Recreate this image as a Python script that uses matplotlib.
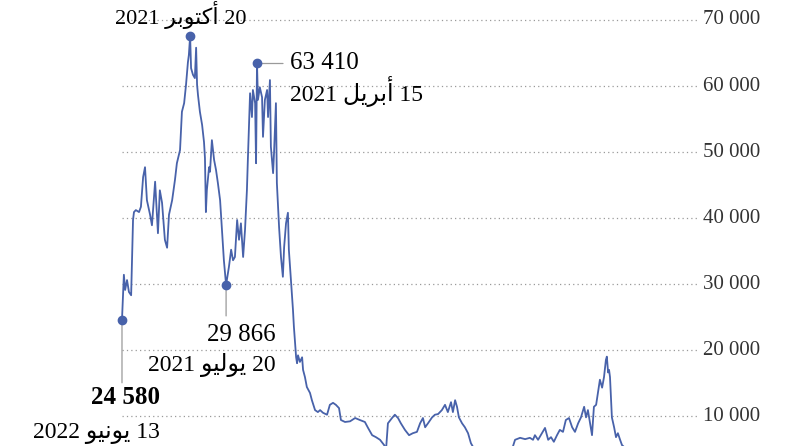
import matplotlib
matplotlib.use("Agg")
import matplotlib.pyplot as plt

# days before 13 June 2022 (x grows towards the past, to the right)
days = [0, 3, 6, 10, 16, 22, 29, 35, 38, 44, 54, 60, 67, 73, 79, 89, 95, 105, 114, 120,
        127, 136, 143, 149, 159, 168, 174, 184, 190, 197, 203, 209, 212, 216, 219, 225,
        231, 235, 238, 241, 247, 254, 260, 263, 266, 269, 276, 279, 285, 292, 298, 304,
        311, 317, 323, 330, 339, 346, 352, 358, 365, 371, 377, 384, 390, 396, 399, 406,
        412, 415, 422, 425, 428, 431, 437, 444, 447, 453, 460, 463, 469, 472, 479, 482,
        488, 491, 498, 504, 510, 514, 520, 526, 529, 536, 542, 545, 548, 552, 555, 558,
        564, 571, 574, 580, 586, 596, 602, 612, 621, 628, 637, 650, 659, 669, 678, 688,
        694, 707, 723, 739, 754, 770, 780, 793, 805, 818, 831, 837, 843, 856, 865, 875,
        884, 897, 910, 922, 935, 945, 954, 961, 970, 983, 992, 1002, 1014, 1024, 1033,
        1043, 1049, 1056, 1062, 1068, 1078, 1087, 1097, 1106, 1113, 1135, 1167, 1198,
        1230, 1246, 1262, 1278, 1293, 1303, 1309, 1319, 1331, 1341, 1351, 1360, 1369,
        1379, 1388, 1398, 1407, 1417, 1427, 1436, 1446, 1455, 1465, 1471, 1477, 1484,
        1490, 1496, 1503, 1509, 1515, 1522, 1528, 1534, 1537, 1541, 1544, 1547, 1550,
        1553, 1560, 1566, 1572, 1579, 1585, 1610, 1674, 1769, 1832]

price = [24580, 27900, 31400, 29100, 30600, 28800, 28300, 39700, 40900, 41200, 40900,
         41700, 46200, 47700, 42700, 40500, 38900, 45500, 37700, 44200, 42300, 36700,
         35500, 40500, 42700, 45800, 48300, 50300, 56100, 57400, 60200, 63600, 64700,
         67580, 62700, 61700, 61200, 65800, 60200, 58600, 56100, 54100, 51500, 49100,
         40900, 44200, 47700, 47000, 51800, 48800, 47300, 45300, 42700, 38200, 33600,
         29866, 32600, 35200, 33600, 34100, 39700, 36700, 39200, 34100, 38200, 44200,
         48800, 58900, 55300, 59400, 57400, 48300, 63410, 57900, 59800, 58300, 52300,
         57900, 59400, 55300, 60900, 50800, 46800, 49900, 57400, 45300, 38600, 34100,
         31100, 35600, 39200, 40800, 35200, 30200, 26100, 23500, 21500, 18900, 18000,
         19200, 18200, 18900, 17000, 15900, 14400, 13500, 12400, 10900, 10600, 10900,
         10500, 10200, 11700, 12000, 11700, 11200, 9400, 9100, 9200, 9700, 9400, 9100,
         8200, 7100, 6800, 6400, 5600, 4900, 8900, 9700, 10200, 9700, 8900, 7900, 7100,
         7400, 7600, 8900, 9700, 8300, 8900, 9800, 10200, 10300, 10900, 11700, 10600,
         12100, 10600, 12400, 11400, 9800, 8900, 8300, 7400, 5900, 5300, 3800, 3600,
         3900, 4000, 6400, 6700, 6500, 6700, 6400, 7100, 6400, 7400, 8200, 6400, 6800,
         6100, 7100, 7900, 7600, 9400, 9700, 8300, 7600, 8900, 9800, 11400, 9800, 10900,
         8900, 7100, 11400, 11700, 13600, 15500, 14300, 15900, 18500, 19000, 16600,
         17000, 15900, 12900, 9800, 8300, 6800, 7400, 6400, 5600, 4500, 3000, 1500, 1000]

yticks = [10000, 20000, 30000, 40000, 50000, 60000, 70000]
ytick_labels = ["10 000", "20 000", "30 000", "40 000", "50 000", "60 000", "70 000"]

# Arabic words in presentation forms, visual (left-to-right) order
oct_ar = "\uFEAE\uFE91\uFEEE\uFE98\uFEDB\uFE83"   # أكتوبر
apr_ar = "\uFEDE\uFEF3\uFEAE\uFE91\uFE83"         # أبريل
jul_ar = "\uFEEE\uFEF4\uFEDF\uFEEE\uFEF3"         # يوليو
jun_ar = "\uFEEE\uFEF4\uFEE7\uFEEE\uFEF3"         # يونيو

# (day, value, value label, date label)
marks = [
    (0, 24580, "24 580", "2022 " + jun_ar + " 13"),
    (330, 29866, "29 866", "2021 " + jul_ar + " 20"),
    (428, 63410, "63 410", "2021 " + apr_ar + " 15"),
    (216, 67580, None, "2021 " + oct_ar + " 20"),
]

line_color = "#4862aa"
fam = ["Liberation Serif", "DejaVu Sans"]

fig = plt.figure(figsize=(7.92, 4.46), dpi=100)
ax = fig.add_axes([0, 0, 700 / 792, 1])
ax.set_xlim(-386.7, 1832.3)
ax.set_ylim(5461, 73030)
ax.axis("off")

ax.hlines(yticks, 0, 1832.3, colors="#9a9a9a", linestyles=(0, (1, 2.5)), lw=0.9, zorder=1)
for v, lab in zip(yticks, ytick_labels):
    ax.annotate(lab, xy=(1, v), xycoords=("axes fraction", "data"), xytext=(3, 0),
                textcoords="offset pixels", ha="left", va="center",
                fontsize=15, color="#333333", family=fam)

ax.plot(days, price, color=line_color, lw=1.3, zorder=3)

for d, v, _, _ in marks:
    ax.plot(d, v, "o", color=line_color, ms=6, zorder=4)

lead = dict(color="#9a9a9a", lw=0.9)

# 13 June 2022
d, v, vl, dl = marks[0]
ax.annotate("", xy=(d, v), xytext=(0, -63), textcoords="offset pixels",
            arrowprops=dict(arrowstyle="-", shrinkA=0, shrinkB=0, **lead))
ax.annotate(vl, xy=(d, v), xytext=(38, -84), textcoords="offset pixels", ha="right",
            va="baseline", fontsize=18, fontweight="bold", family=fam)
ax.annotate(dl, xy=(d, v), xytext=(38, -118), textcoords="offset pixels", ha="right",
            va="baseline", fontsize=17, family=fam)

# 20 July 2021
d, v, vl, dl = marks[1]
ax.annotate("", xy=(d, v), xytext=(0, -31), textcoords="offset pixels",
            arrowprops=dict(arrowstyle="-", shrinkA=0, shrinkB=0, **lead))
ax.annotate(vl, xy=(d, v), xytext=(50, -56), textcoords="offset pixels", ha="right",
            va="baseline", fontsize=18, family=fam)
ax.annotate(dl, xy=(d, v), xytext=(50, -86), textcoords="offset pixels", ha="right",
            va="baseline", fontsize=17, family=fam)

# 15 April 2021
d, v, vl, dl = marks[2]
ax.annotate("", xy=(d, v), xytext=(26, 0), textcoords="offset pixels",
            arrowprops=dict(arrowstyle="-", shrinkA=0, shrinkB=0, **lead))
ax.annotate(vl, xy=(d, v), xytext=(33, -6), textcoords="offset pixels", ha="left",
            va="baseline", fontsize=18, family=fam)
ax.annotate(dl, xy=(d, v), xytext=(33, -38), textcoords="offset pixels", ha="left",
            va="baseline", fontsize=17, family=fam)

# peak, 20 October 2021
d, v, vl, dl = marks[3]
ax.annotate(dl, xy=(d, v), xytext=(-9, 12), textcoords="offset pixels", ha="center",
            va="baseline", fontsize=16, family=fam)

fig.savefig("out.png", dpi=100)
